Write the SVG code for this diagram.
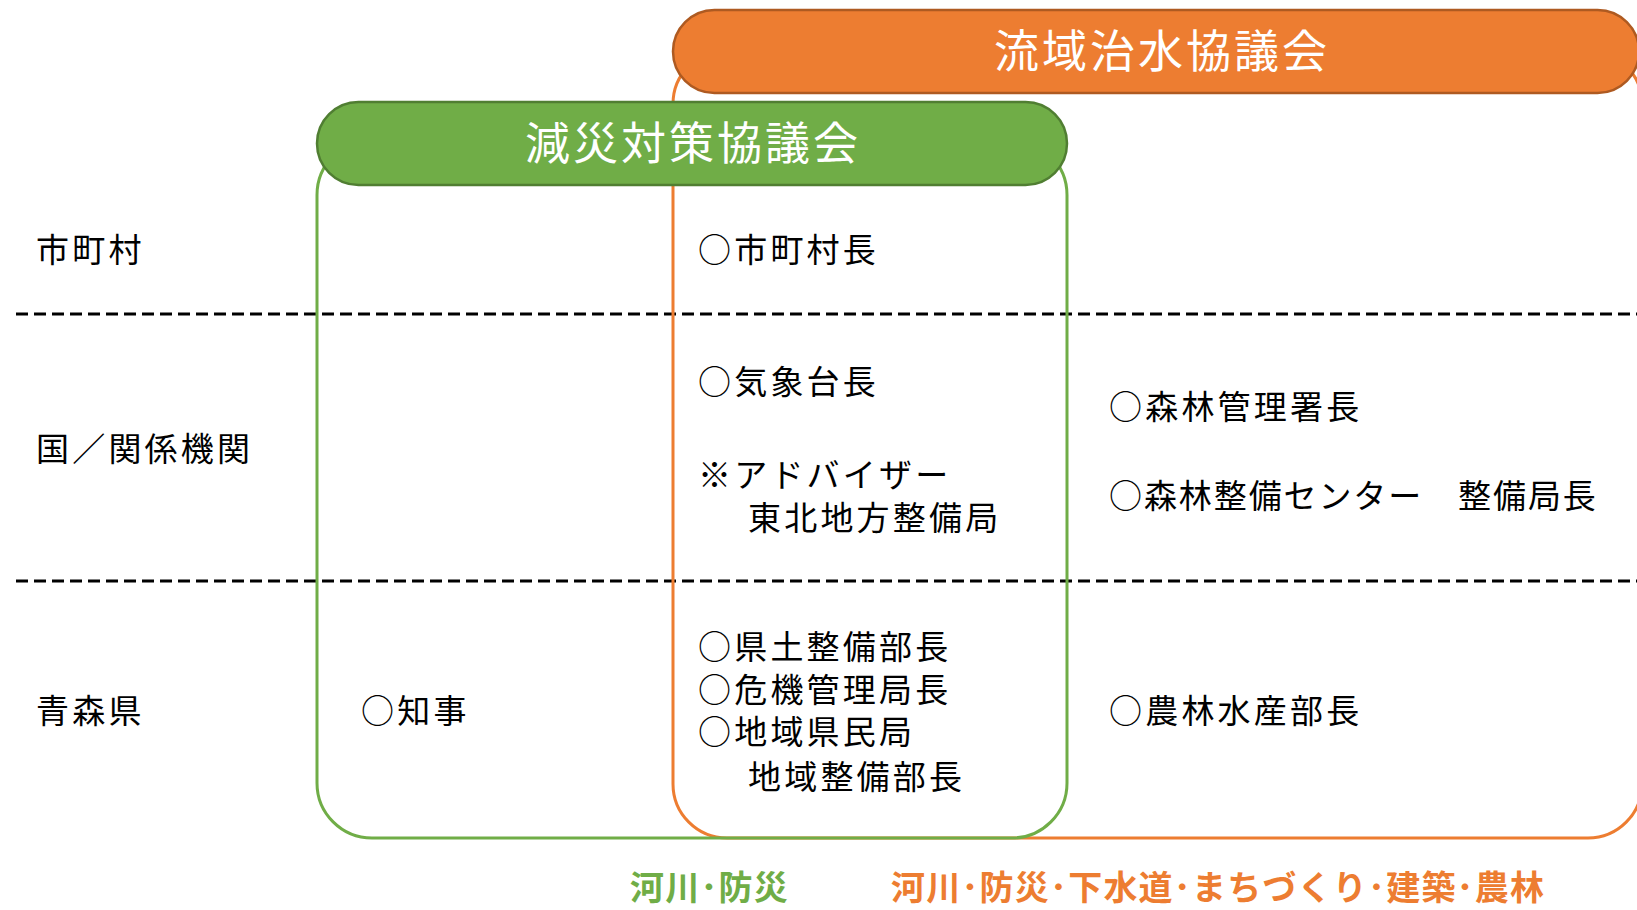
<svg xmlns="http://www.w3.org/2000/svg" width="1637" height="910" viewBox="0 0 1637 910">
<style>
.t{font-family:"Noto Sans CJK JP","Noto Sans CJK SC",sans-serif;font-size:33px;letter-spacing:3.2px;fill:#000}
.h{font-family:"Noto Sans CJK JP","Noto Sans CJK SC",sans-serif;font-size:45px;letter-spacing:3px;fill:#fff;text-anchor:middle}
.b{font-family:"Noto Sans CJK JP","Noto Sans CJK SC",sans-serif;font-size:34px;font-weight:bold;letter-spacing:1.2px}
.sep{stroke:#000;stroke-width:3;stroke-dasharray:12 6;fill:none}
</style>
<rect width="1637" height="910" fill="#fff"/>
<g id="separators">
<line class="sep" x1="16" y1="314" x2="1637" y2="314"/>
<line class="sep" x1="16" y1="581" x2="1637" y2="581"/>
</g>
<g id="ryuiki-box">
<rect x="673" y="50" width="969" height="788" rx="54" fill="none" stroke="#ED7D31" stroke-width="3"/>
</g>
<g id="gensai-box">
<rect x="317" y="140" width="750" height="698" rx="55" fill="none" stroke="#70AD47" stroke-width="3"/>
</g>
<g id="ryuiki-header">
<rect x="673" y="10" width="966" height="83" rx="41.5" fill="#ED7D31" stroke="#AE5A21" stroke-width="2.5"/>
<text class="h" x="1162" y="68">流域治水協議会</text>
</g>
<g id="gensai-header">
<rect x="317" y="102" width="750" height="83" rx="41.5" fill="#70AD47" stroke="#507E32" stroke-width="2.5"/>
<text class="h" x="693" y="160">減災対策協議会</text>
</g>
<g id="row-labels">
<text class="t" x="36" y="262">市町村</text>
<text class="t" x="36" y="461">国／関係機関</text>
<text class="t" x="36" y="723">青森県</text>
</g>
<g id="gensai-only">
<text class="t" x="361" y="723">○知事</text>
</g>
<g id="common">
<text class="t" x="698" y="262">○市町村長</text>
<text class="t" x="698" y="394">○気象台長</text>
<text class="t" x="698" y="487">※アドバイザー<tspan x="748" y="530">東北地方整備局</tspan></text>
<text class="t" x="698" y="659">○県土整備部長<tspan x="698" y="702">○危機管理局長</tspan><tspan x="698" y="744">○地域県民局</tspan><tspan x="748" y="789">地域整備部長</tspan></text>
</g>
<g id="ryuiki-only">
<text class="t" x="1109" y="419">○森林管理署長</text>
<text class="t" x="1109" y="508" textLength="490">○森林整備センター　整備局長</text>
<text class="t" x="1109" y="723">○農林水産部長</text>
</g>
<g id="fields">
<text class="b" x="630" y="900" fill="#70AD47">河川･防災</text>
<text class="b" x="891" y="900" fill="#ED7D31">河川･防災･下水道･まちづくり･建築･農林</text>
</g>
</svg>
